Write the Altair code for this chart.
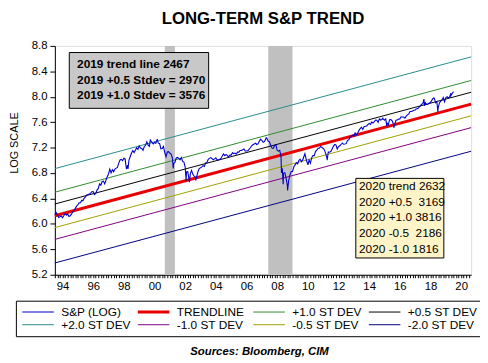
import altair as alt
import pandas as pd
import numpy as np

FONT = "Liberation Sans"

# ---- S&P 500 month-end closes (Dec 1993 .. Dec 2019) ----
sp_start = [466]  # Dec 1993
sp_1994 = [482, 467, 446, 451, 457, 444, 458, 475, 463, 472, 454, 459]
sp_1995 = [470, 487, 501, 515, 533, 545, 562, 562, 584, 582, 605, 616]
sp_1996 = [636, 640, 646, 654, 669, 671, 640, 652, 687, 705, 757, 741]
sp_1997 = [786, 791, 757, 801, 848, 885, 954, 899, 947, 915, 955, 970]
sp_1998 = [980, 1049, 1102, 1112, 1091, 1134, 1121, 957, 1017, 1099, 1164, 1229]
sp_1999 = [1280, 1238, 1286, 1335, 1302, 1373, 1329, 1320, 1283, 1363, 1389, 1469]
sp_2000 = [1394, 1366, 1499, 1452, 1421, 1455, 1431, 1518, 1437, 1429, 1315, 1320]
sp_2001 = [1366, 1240, 1160, 1249, 1256, 1224, 1211, 1134, 1041, 1060, 1139, 1148]
sp_2002 = [1130, 1107, 1147, 1077, 1067, 990, 912, 916, 815, 886, 936, 880]
sp_2003 = [856, 841, 848, 917, 964, 975, 990, 1008, 996, 1051, 1058, 1112]
sp_2004 = [1131, 1145, 1126, 1107, 1121, 1141, 1102, 1104, 1115, 1130, 1174, 1212]
sp_2005 = [1181, 1204, 1181, 1157, 1192, 1191, 1234, 1220, 1229, 1207, 1249, 1248]
sp_2006 = [1280, 1281, 1295, 1311, 1270, 1270, 1277, 1304, 1336, 1378, 1401, 1418]
sp_2007 = [1438, 1407, 1421, 1482, 1531, 1503, 1455, 1474, 1527, 1549, 1481, 1468]
sp_2008 = [1379, 1331, 1323, 1386, 1400, 1280, 1267, 1283, 1165, 969, 896, 903]
sp_2009 = [826, 735, 798, 873, 919, 919, 987, 1021, 1057, 1036, 1096, 1115]
sp_2010 = [1074, 1104, 1169, 1187, 1089, 1031, 1102, 1049, 1141, 1183, 1181, 1258]
sp_2011 = [1286, 1327, 1326, 1364, 1345, 1321, 1292, 1219, 1131, 1253, 1247, 1258]
sp_2012 = [1312, 1366, 1408, 1398, 1310, 1362, 1379, 1407, 1441, 1412, 1416, 1426]
sp_2013 = [1498, 1515, 1569, 1598, 1631, 1606, 1686, 1633, 1682, 1757, 1806, 1848]
sp_2014 = [1783, 1859, 1872, 1884, 1924, 1960, 1931, 2003, 1972, 2018, 2068, 2059]
sp_2015 = [1995, 2105, 2068, 2086, 2107, 2063, 2104, 1972, 1920, 2079, 2080, 2044]
sp_2016 = [1940, 1932, 2060, 2065, 2097, 2099, 2174, 2171, 2168, 2126, 2199, 2239]
sp_2017 = [2279, 2364, 2363, 2384, 2412, 2423, 2470, 2472, 2519, 2575, 2648, 2674]
sp_2018 = [2824, 2714, 2641, 2648, 2705, 2718, 2816, 2902, 2914, 2712, 2760, 2507]
sp_2019 = [2704, 2784, 2834, 2946, 2752, 2942, 2980, 2926, 2977, 3038, 3141, 3231]

# intra-month extremes (decimal year, level)
extra_t = [1998.77, 2000.23, 2000.68, 2001.72, 2002.56, 2002.78, 2003.19, 2007.78,
           2008.78, 2008.89, 2009.18, 2010.31, 2010.51, 2011.33, 2011.76, 2015.39,
           2015.65, 2016.11, 2018.07, 2018.11, 2018.72, 2018.98, 2019.83]
extra_v = [959, 1527, 1520, 966, 797, 777, 800, 1565,
           899, 752, 683, 1217, 1022, 1364, 1099, 2131,
           1868, 1829, 2873, 2581, 2931, 2351, 3153]

# ---- trend annotations ----
TREND_2019 = 2467
PLUS05_2019 = 2970
PLUS10_2019 = 3576
TREND_2020 = 2632
box1_lines = ["2019 trend line 2467", "2019 +0.5 Stdev = 2970", "2019 +1.0 Stdev = 3576"]
box2_lines = ["2020 trend 2632", "2020 +0.5\u00a0\u00a03169", "2020 +1.0 3816",
              "2020 -0.5\u00a0\u00a02186", "2020 -1.0 1816"]

# recessions (decimal years)
rec_start = [2001.17, 2007.92]
rec_end = [2001.83, 2009.5]

series_names = ["S&P (LOG)", "TRENDLINE", "+1.0 ST DEV", "+0.5 ST DEV",
                "+2.0 ST DEV", "-1.0 ST DEV", "-0.5 ST DEV", "-2.0 ST DEV"]
series_colors = ["#0000CC", "#E80000", "#2E8B2E", "#000000",
                 "#2A8A8A", "#800080", "#A0A000", "#000080"]
series_widths = [1.1, 3, 1, 1, 1, 1, 1, 1]
band_k = {"TRENDLINE": 0, "+1.0 ST DEV": 1, "+0.5 ST DEV": 0.5, "+2.0 ST DEV": 2,
          "-1.0 ST DEV": -1, "-0.5 ST DEV": -0.5, "-2.0 ST DEV": -2}

x_label_years = list(range(1994, 2021, 2))
y_ticks = [5.2, 5.6, 6.0, 6.4, 6.8, 7.2, 7.6, 8.0, 8.4, 8.8]

X0, X1 = 1994.0, 2021.15

# ---- build tables ----
years = list(range(1994, 2020))
monthly = [sp_1994, sp_1995, sp_1996, sp_1997, sp_1998, sp_1999, sp_2000, sp_2001,
           sp_2002, sp_2003, sp_2004, sp_2005, sp_2006, sp_2007, sp_2008, sp_2009,
           sp_2010, sp_2011, sp_2012, sp_2013, sp_2014, sp_2015, sp_2016, sp_2017,
           sp_2018, sp_2019]
rows = [(1994.0, sp_start[0])]
for y, vals in zip(years, monthly):
    for m, v in enumerate(vals, start=1):
        rows.append((y + m / 12.0, v))
rows += list(zip(extra_t, extra_v))
rows.sort()
sp_df = pd.DataFrame({"t": [r[0] for r in rows], "v": [np.log(r[1]) for r in rows],
                      "series": "S&P (LOG)"})

slope = np.log(TREND_2020) - np.log(TREND_2019)   # per year
sd = 2 * (np.log(PLUS05_2019) - np.log(TREND_2019))
def trend(t):
    return np.log(TREND_2019) + slope * (t - 2020.0)
tl = []
for name, k in band_k.items():
    for t in (X0, X1):
        tl.append({"t": t, "v": trend(t) + k * sd, "series": name})
tl_df = pd.DataFrame(tl)

rec_df = pd.DataFrame({"s": rec_start, "e": rec_end})

xscale = alt.Scale(domain=[X0, X1], nice=False, zero=False)
yscale = alt.Scale(domain=[5.2, 8.8], nice=False, zero=False)

tick_vals = sorted(set([round(1994 + k / 6.0, 4) for k in range(0, int((2021 - 1994) * 6) + 1)]))
label_expr = ("(datum.value % 2 > 0.49 && datum.value % 2 < 0.51)"
              " ? substring(toString(datum.value), 2, 4) : ''")

x_axis = alt.Axis(values=tick_vals, labelExpr=label_expr, labelOverlap=False, labelFlush=False,
                  grid=False, tickSize=3, tickColor="black", domainColor="black",
                  labelFont=FONT, labelFontSize=11.5, labelColor="black", labelPadding=3,
                  title="Sources:  Bloomberg, CIM", titleFont=FONT, titleFontSize=11.5,
                  titleFontStyle="italic", titleFontWeight="bold", titleColor="black",
                  titleX=207, titleY=81, titleAlign="center", titleBaseline="alphabetic")
y_axis = alt.Axis(values=y_ticks, format=".1f", grid=False, tickSize=5, tickColor="black",
                  labelOverlap=False, labelFlush=False,
                  domainColor="black", labelFont=FONT, labelFontSize=11.5, labelColor="black",
                  labelPadding=3, title="LOG SCALE", titleFont=FONT, titleFontSize=11,
                  titleFontWeight="normal", titleColor="black", titleAngle=270,
                  titleX=-41, titleY=98, titleAlign="center", titleBaseline="middle")

legend = alt.Legend(title=None, orient="none", legendX=-39.5, legendY=258.3, columns=4,
                    direction="horizontal", strokeColor="black", padding=5,
                    labelFont=FONT, labelFontSize=12, labelColor="black",
                    symbolType="stroke", symbolSize=1024, labelOffset=6,
                    columnPadding=5.1, rowPadding=0, clipHeight=12.7, gridAlign="all",
                    symbolOffset=0, labelLimit=200)
color = alt.Color("series:N", scale=alt.Scale(domain=series_names, range=series_colors),
                  legend=legend)
width = alt.StrokeWidth("series:N",
                        scale=alt.Scale(type="ordinal", domain=series_names, range=series_widths),
                        legend=legend)

X = lambda f: alt.X(f, scale=xscale, axis=x_axis)
Y = lambda f: alt.Y(f, scale=yscale, axis=y_axis)

rec = alt.Chart(rec_df).mark_rect(color="#C0C0C0").encode(x=X("s:Q"), x2="e:Q")

trend_layer = alt.Chart(tl_df).mark_line().encode(
    x=X("t:Q"), y=Y("v:Q"), color=color, strokeWidth=width, detail="series:N")

sp_layer = alt.Chart(sp_df).mark_line().encode(
    x=X("t:Q"), y=Y("v:Q"), color=color, strokeWidth=width, order="t:Q")

box_df = pd.DataFrame({"x": [1994.94, 2013.63], "x2": [2004.03, 2019.37],
                       "y": [8.696, 6.716], "y2": [7.818, 5.464],
                       "fill": ["#C8C8C8", "#FFF4C8"]})
boxes = alt.Chart(box_df).mark_rect(stroke="black", strokeWidth=1).encode(
    x=X("x:Q"), x2="x2:Q", y=Y("y:Q"), y2="y2:Q", fill=alt.Fill("fill:N", scale=None))

t1_df = pd.DataFrame({"txt": box1_lines, "x": 1995.45,
                      "y": [8.696 - 0.18 - i * 0.247 for i in range(len(box1_lines))]})
t2_df = pd.DataFrame({"txt": box2_lines, "x": 2013.84,
                      "y": [6.716 - 0.115 - i * 0.2495 for i in range(len(box2_lines))]})
text1 = alt.Chart(t1_df).mark_text(align="left", baseline="middle", font=FONT, fontSize=12,
                                   fontWeight="bold", color="black").encode(
    x=X("x:Q"), y=Y("y:Q"), text="txt:N")
text2 = alt.Chart(t2_df).mark_text(align="left", baseline="middle", font=FONT, fontSize=12,
                                   color="black").encode(
    x=X("x:Q"), y=Y("y:Q"), text="txt:N")

chart = alt.layer(rec, trend_layer, sp_layer, boxes, text1, text2).properties(
    width=422, height=232,
    autosize=alt.AutoSizeParams(type="none"),
    padding={"left": 47.5, "top": 36, "right": 9, "bottom": 85},
    title=alt.Title("LONG-TERM S&P TREND", font=FONT, fontSize=17, fontWeight="bold",
                    color="black", anchor="middle", frame="group", offset=12),
).configure_view(stroke="black", strokeWidth=1).configure(background="white")

chart.save("out.html", embed_options={"renderer": "svg", "actions": False})
